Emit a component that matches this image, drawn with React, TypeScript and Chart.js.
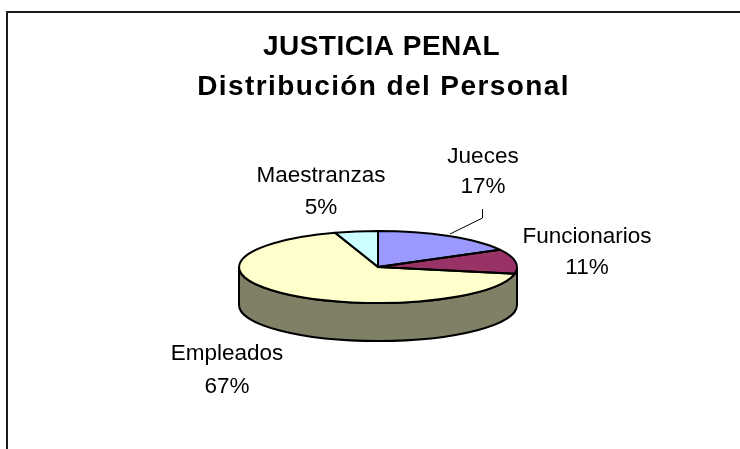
import React, { useEffect, useRef } from "react";
import { Chart, registerables } from "chart.js";

Chart.register(...registerables);

const categories = ["Jueces", "Funcionarios", "Empleados", "Maestranzas"];
const shares = [17, 11, 67, 5];
const sliceColors = ["#9999FF", "#993366", "#FFFFCC", "#CCFFFF"];
const titleText = "JUSTICIA PENAL";
const subtitleText = "Distribución del Personal";

const WALL_COLOR = "#808066";
const SQUASH = 36 / 139;
const DEPTH = 38;
const TITLE_FAMILY = "'Liberation Sans', Arial, sans-serif";
const LABEL_FONT = "22.5px 'Liberation Sans', Arial, sans-serif";
const LABEL_BOXES: Record<string, [number, number, number]> = {
  Jueces: [483, 157, 187],
  Funcionarios: [587, 237, 268],
  Empleados: [227, 354, 387],
  Maestranzas: [321, 176, 208],
};

function spaced(box: any, spacing: string) {
  const draw = box.draw;
  box.draw = function (area: any) {
    const ctx = box.ctx;
    ctx.save();
    ctx.letterSpacing = spacing;
    draw.call(box, area);
    ctx.restore();
  };
}

const pie3d = {
  id: "pie3d",
  afterLayout(chart: any) {
    for (const box of chart.boxes) {
      if (box.options?.text === titleText) box.left = 23;
      if (box.options?.text === subtitleText) box.left = 27;
    }
  },
  beforeDraw(chart: any) {
    const { ctx } = chart;
    ctx.save();
    ctx.fillStyle = "#1a1a1a";
    ctx.fillRect(6, 11, 734, 2);
    ctx.fillRect(6, 11, 2, 438);
    ctx.restore();
  },
  beforeDatasetsDraw(chart: any) {
    const { ctx } = chart;
    const arc = chart.getDatasetMeta(0).data[0];
    const cx = arc.x, cy = arc.y, rx = arc.outerRadius, ry = rx * SQUASH;
    ctx.save();
    ctx.beginPath();
    ctx.moveTo(cx - rx, cy);
    ctx.lineTo(cx - rx, cy + DEPTH);
    ctx.ellipse(cx, cy + DEPTH, rx, ry, 0, Math.PI, 0, true);
    ctx.lineTo(cx + rx, cy);
    ctx.ellipse(cx, cy, rx, ry, 0, 0, Math.PI, false);
    ctx.closePath();
    ctx.fillStyle = WALL_COLOR;
    ctx.fill();
    ctx.lineWidth = 2;
    ctx.strokeStyle = "#000";
    ctx.stroke();
    ctx.restore();
    ctx.save();
    ctx.translate(cx, cy);
    ctx.scale(1, SQUASH);
    ctx.translate(-cx, -cy);
  },
  afterDatasetsDraw(chart: any) {
    const { ctx } = chart;
    ctx.restore();
    ctx.save();
    ctx.lineWidth = 2;
    ctx.strokeStyle = "#000";
    ctx.lineJoin = "round";
    for (const a of chart.getDatasetMeta(0).data) {
      const rx = a.outerRadius, ry = rx * SQUASH;
      ctx.beginPath();
      ctx.moveTo(a.x, a.y);
      ctx.ellipse(a.x, a.y, rx, ry, 0, a.startAngle, a.endAngle);
      ctx.closePath();
      ctx.stroke();
    }
    ctx.restore();
  },
  afterDraw(chart: any) {
    const { ctx } = chart;
    ctx.save();
    ctx.fillStyle = "#000";
    ctx.font = LABEL_FONT;
    ctx.textAlign = "center";
    ctx.textBaseline = "middle";
    categories.forEach((name, i) => {
      const [x, y1, y2] = LABEL_BOXES[name];
      ctx.fillText(name, x, y1);
      ctx.fillText(`${shares[i]}%`, x, y2);
    });
    ctx.strokeStyle = "#000";
    ctx.lineWidth = 1;
    ctx.beginPath();
    ctx.moveTo(450, 234);
    ctx.lineTo(482.5, 218);
    ctx.lineTo(482.5, 209);
    ctx.stroke();
    ctx.restore();
  },
};

export default function App() {
  const ref = useRef<HTMLCanvasElement>(null);
  useEffect(() => {
    const titleFont = { family: TITLE_FAMILY, size: 28, weight: "bold", lineHeight: 1.43 };
    const chart: any = new Chart(ref.current!, {
      type: "pie",
      data: {
        labels: categories,
        datasets: [{
          data: shares,
          backgroundColor: sliceColors,
          borderWidth: 0,
          hoverOffset: 0,
          radius: 139,
        }],
      },
      options: {
        responsive: false,
        animation: false,
        events: [],
        layout: { padding: { left: 16, right: 0, top: 0, bottom: 36 } },
        plugins: {
          legend: { display: false },
          tooltip: { enabled: false },
          title: {
            display: true,
            text: titleText,
            color: "#000",
            font: titleFont,
            padding: { top: 27, bottom: 0 },
          },
          subtitle: {
            display: true,
            text: subtitleText,
            color: "#000",
            font: titleFont,
            padding: { top: 0, bottom: 14 },
          },
        },
      },
      plugins: [pie3d],
    } as any);
    for (const box of chart.boxes) {
      if (box.options?.text === titleText) spaced(box, "0.5px");
      if (box.options?.text === subtitleText) spaced(box, "1.4px");
    }
    chart.draw();
    return () => chart.destroy();
  }, []);
  return (
    <div style={{ position: "absolute", left: 0, top: 0, width: 740, height: 449 }}>
      <canvas ref={ref} width={740} height={449} style={{ display: "block" }} />
    </div>
  );
}
